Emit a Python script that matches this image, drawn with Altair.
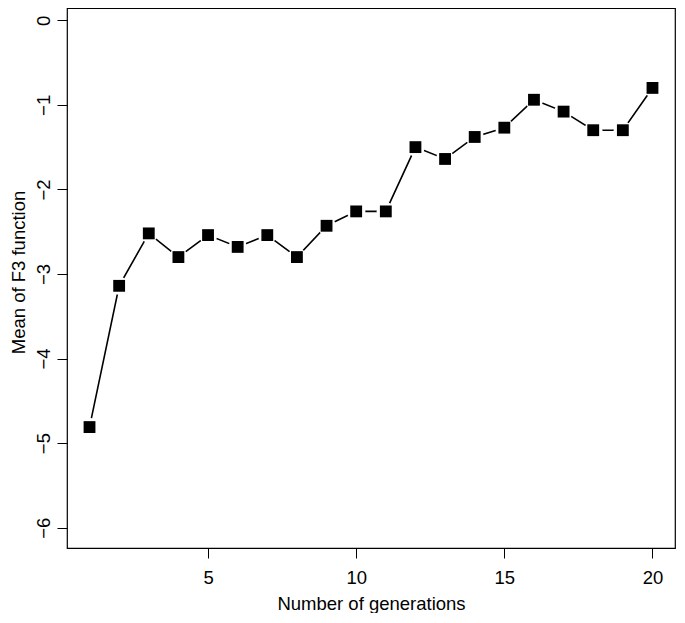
import altair as alt
import pandas as pd

generations = list(range(1, 21))
mean_f3 = [-4.81, -3.14, -2.52, -2.80, -2.54, -2.68, -2.54, -2.80, -2.43, -2.26,
           -2.26, -1.50, -1.64, -1.38, -1.27, -0.94, -1.08, -1.30, -1.30, -0.80]
x_ticks = [5, 10, 15, 20]
y_ticks = [-6, -5, -4, -3, -2, -1, 0]

df = pd.DataFrame({"gen": generations, "mean": mean_f3})

FONT = "Liberation Sans"
FS = 18.5

x_enc = alt.X(
    "gen:Q",
    scale=alt.Scale(domain=[0.24, 20.76], nice=False, zero=False),
    axis=alt.Axis(
        values=x_ticks, title="Number of generations", grid=False, domain=False,
        tickSize=10, tickColor="black", tickWidth=1,
        labelFont=FONT, labelFontSize=FS, labelColor="black",
        labelBaseline="alphabetic", labelPadding=25, labelFlush=False,
        titleFont=FONT, titleFontSize=FS, titleFontWeight="normal", titleColor="black",
        titleBaseline="alphabetic", titleY=61,
    ),
)
y_enc = alt.Y(
    "mean:Q",
    scale=alt.Scale(domain=[-6.24, 0.145], nice=False, zero=False),
    axis=alt.Axis(
        values=y_ticks, title="Mean of F3 function", grid=False, domain=False,
        tickSize=10, tickColor="black", tickWidth=1,
        labelFont=FONT, labelFontSize=FS, labelColor="black",
        labelAngle=270, labelAlign="center", labelBaseline="alphabetic",
        labelPadding=8, labelFlush=False,
        titleFont=FONT, titleFontSize=FS, titleFontWeight="normal", titleColor="black",
        titleAngle=270, titleAlign="center", titleBaseline="alphabetic",
        titleX=-43, titleY=264,
    ),
)

base = alt.Chart(df).encode(x=x_enc, y=y_enc)

line = base.mark_line(color="black", strokeWidth=1.6)
gaps = base.mark_point(shape="circle", filled=True, color="white", opacity=1, size=340)
squares = base.mark_point(shape="square", filled=True, color="black", opacity=1, size=140)

chart = (
    alt.layer(line, gaps, squares)
    .properties(
        width=608, height=540, background="white",
        autosize=alt.AutoSizeParams(type="none"),
        padding={"left": 59, "top": 0, "right": 2, "bottom": 65},
    )
    .configure_view(stroke="black", strokeWidth=1.2)
)

chart.save("out.html", embed_options={"renderer": "svg", "actions": False})
